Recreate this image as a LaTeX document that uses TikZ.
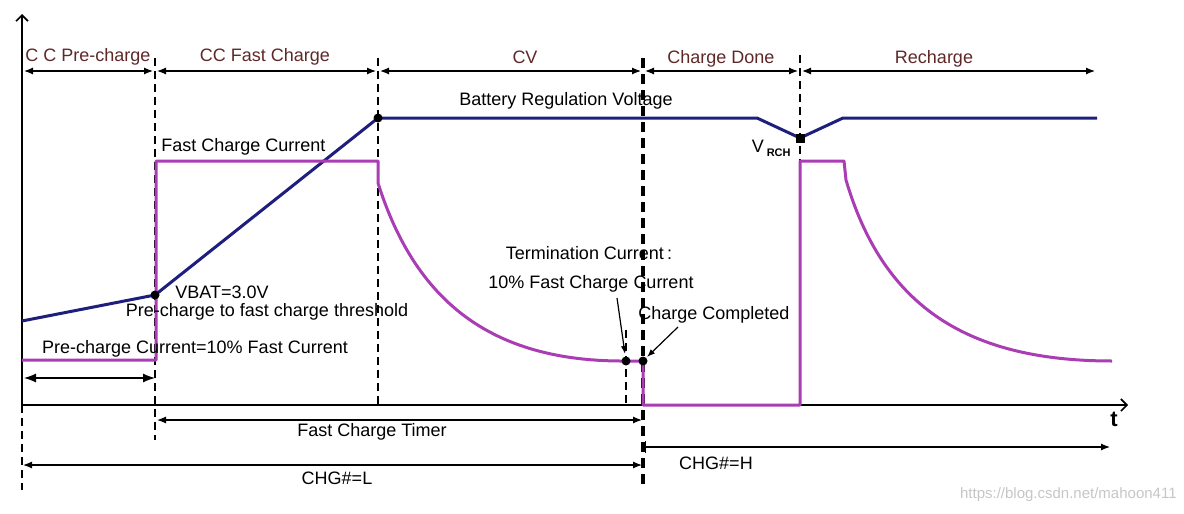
\documentclass[tikz,border=0pt]{standalone}
\usepackage{fontspec}
\setmainfont{Liberation Sans}
\usetikzlibrary{positioning}
\usetikzlibrary{arrows.meta}
\definecolor{navyline}{RGB}{30,30,125}
\definecolor{currentline}{RGB}{170,60,180}
\definecolor{phasetext}{RGB}{95,40,40}
\tikzstyle{voltage} = [draw,navyline,line width=1.5pt,line join=round]
\tikzstyle{current} = [draw,currentline,line width=1.5pt,line join=round]
\tikzstyle{divider} = [draw,dash pattern=on 4pt off 2.5pt,line width=0.7pt]
\tikzstyle{span} = [draw,line width=0.6pt,{Latex[length=4.5pt,width=3.5pt]}-{Latex[length=4.5pt,width=3.5pt]}]
\tikzstyle{txt} = [font=\fontsize{9}{11}\selectfont,inner sep=0pt]
\tikzstyle{phasetxt} = [txt,text=phasetext]
\tikzstyle{dot} = [circle,fill=black,inner sep=0pt,minimum size=4.5pt]
\tikzstyle{sqdot} = [rectangle,fill=black,inner sep=0pt,minimum size=4.5pt]

\begin{document}
\begin{tikzpicture}[x=0.5pt,y=-0.5pt]
  \useasboundingbox (0,0) rectangle (1184,514);

  % axes
  \foreach \name/\x/\y in {o/22/405, ytop/22/14, xend/1128/405, ybot/22/490}
      \coordinate (\name) at (\x,\y);
  \draw[line width=0.8pt,-{Straight Barb[length=3pt]}] (o) -- (ytop);
  \draw[line width=0.8pt,-{Straight Barb[length=3pt]}] (o) -- (xend);
  \node[font=\fontsize{11}{12}\selectfont\bfseries\rmfamily,inner sep=0pt] (t) at (1114,419) {t};

  % phase borders
  \foreach \name/\x in {p0/22, p1/155, p2/378, p3/643, p4/800, p5/1097}
      \coordinate (\name) at (\x,71);
  \foreach \source/\dest in {p0/p1, p1/p2, p2/p3, p3/p4, p4/p5}
      \path[span,shorten <=1pt,shorten >=1pt] (\source) -- (\dest);

  \foreach \name/\x/\y/\text in {lpre/88/57/C C Pre-charge, lfast/265/57/CC Fast Charge, lcv/525/57/CV,
                                 ldone/721/59/Charge Done, lre/934/59/Recharge}
      \node[phasetxt] (\name) at (\x,\y) {\text};

  % dashed dividers
  \foreach \name/\x/\y in {d1t/155/58, d1b/155/440, d2t/378/58, d2b/378/405, d3t/643/58, d3b/643/484,
                           d4t/800/55, d4b/800/405, d5t/626/330, d5b/626/405}
      \coordinate (\name) at (\x,\y);
  \foreach \source/\dest in {d1t/d1b, d2t/d2b, d4t/d4b, d5t/d5b, o/ybot}
      \path[divider] (\source) -- (\dest);
  \path[divider,line width=1.7pt,dash pattern=on 5pt off 3pt] (d3t) -- (d3b);

  % battery voltage
  \foreach \name/\x/\y in {v0/22/321, v1/155/295, v2/378/118, v3/757/118, v4/800/138, v5/843/118, v6/1097/118}
      \coordinate (\name) at (\x,\y);
  \path[voltage] (v0) -- (v1) -- (v2) -- (v3) -- (v4) -- (v5) -- (v6);

  % charge current
  \foreach \name/\x/\y in {c0/22/360, c1/156/360, c2/156/161, c3/378/161, c4/378/183, c5/626/361,
                           c6/643/361, c7/643/405, c8/800/405, c9/800/161, c10/844/161, c11/846/180, c12/1112/361}
      \coordinate (\name) at (\x,\y);
  \path[current] (c0) -- (c1) -- (c2) -- (c3) -- (c4) .. controls (415,300) and (490,362) .. (c5) -- (c6) -- (c7) -- (c8) -- (c9) -- (c10) -- (c11)
      .. controls (882,302) and (962,361) .. (c12);

  % marked points
  \foreach \name/\x/\y in {m1/155/295, m2/378/118, m3/626/361, m4/643/361}
      \node[dot] (\name) at (\x,\y) {};
  \node[sqdot] (m5) at (800,138) {};

  % curve labels
  \node[txt] (lbat) at (566,101) {Battery Regulation Voltage};
  \node[txt,anchor=west] (lfcc) at (161,147) {Fast Charge Current};
  \node[txt,anchor=east] (lrch) at (791,148) {V\,{\fontsize{5.5}{6}\selectfont\bfseries\raisebox{-0.7ex}{RCH}}};
  \node[txt] (lvbat) at (222,292) {VBAT=3.0V};
  \node[txt] (lthr) at (267,312) {Pre-charge to fast charge threshold};
  \node[txt] (lpcc) at (195,349) {Pre-charge Current=10\% Fast Current};
  \node[txt] (lterm) at (589,253) {Termination Current\,:};
  \node[txt] (lten) at (591,284) {10\% Fast Charge Current};
  \node[txt] (ldone2) at (714,315) {Charge Completed};

  \foreach \name/\x/\y in {a1/617/298, a2/625/354, a3/678/327, a4/647/357}
      \coordinate (\name) at (\x,\y);
  \draw[line width=0.6pt,-{Latex[length=4pt,width=3pt]}] (a1) -- (a2);
  \draw[line width=0.6pt,-{Latex[length=4pt,width=3pt]}] (a3) -- (a4);

  % pre-charge span
  \coordinate (s0) at (24,378);
  \coordinate (s1) at (155,378);
  \path[span,{Latex[length=6pt,width=4.5pt]}-{Latex[length=6pt,width=4.5pt]}] (s0) -- (s1);

  % timers
  \foreach \name/\x/\y in {f0/157/420, f1/642/420, g0/23/465, g1/642/465, h0/645/447, h1/1110/447}
      \coordinate (\name) at (\x,\y);
  \path[span] (f0) -- (f1);
  \path[span] (g0) -- (g1);
  \path[span,{Bar[width=6pt]}-{Latex[length=4.5pt,width=3.5pt]}] (h0) -- (h1);
  \node[txt] (ltimer) at (372,432) {Fast Charge Timer};
  \node[txt] (lchgl) at (337,478) {CHG\#=L};
  \node[txt] (lchgh) at (716,463) {CHG\#=H};

  \node[font=\fontsize{7.5}{9}\selectfont,text=gray!45,anchor=east,inner sep=0pt] (mark) at (1177,495) {https://blog.csdn.net/mahoon411};
\end{tikzpicture}
\end{document}
